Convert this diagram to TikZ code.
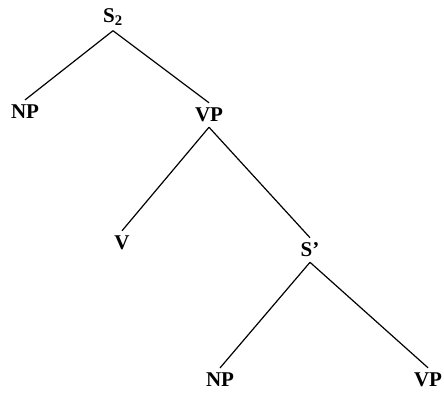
\documentclass[tikz,border=0pt]{standalone}
\usepackage{fontspec}
\setmainfont{Liberation Serif}
\usepackage{tikz}

\tikzset{
  cat/.style={font=\fontsize{21}{24}\selectfont\bfseries, inner sep=5pt},
  branch/.style={line width=1.2pt}
}

\begin{document}
\begin{tikzpicture}[x=1pt,y=-1pt]
\useasboundingbox (0,0) rectangle (444,392);
\node[cat] (s) at (113,17) {S\textsubscript{2}};
\node[cat] (np) at (25,112) {NP};
\node[cat] (vp) at (209,115) {VP};
\node[cat] (v) at (122,243) {V};
\node[cat] (sbar) at (310,250) {S\char"0027};
\node[cat] (npb) at (220,380) {NP};
\node[cat] (vpb) at (428,380) {VP};
\draw[branch] (s.south) -- (np.north);
\draw[branch] (s.south) -- (vp.north);
\draw[branch] (vp.south) -- (v.north);
\draw[branch] (vp.south) -- (sbar.north);
\draw[branch] (sbar.south) -- (npb.north);
\draw[branch] (sbar.south) -- (vpb.north);
\end{tikzpicture}
\end{document}
